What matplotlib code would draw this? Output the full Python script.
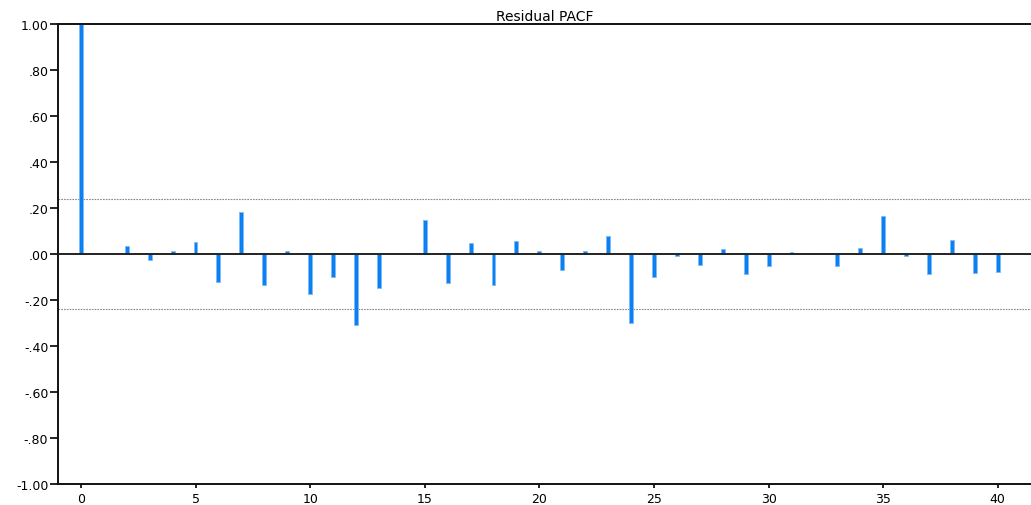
import matplotlib
matplotlib.use("Agg")
import matplotlib.pyplot as plt
import numpy as np

# Partial autocorrelation of residuals, lags 0..40
lags = list(range(0, 41))
pacf = [1.000, 0.000, 0.035, -0.025, 0.012, 0.053, -0.123, 0.181, -0.133, 0.014,
        -0.175, -0.102, -0.307, -0.149, 0.000, 0.146, -0.125, 0.050, -0.133, 0.056,
        0.014, -0.070, 0.014, 0.079, -0.301, -0.101, -0.010, -0.047, 0.020, -0.089,
        -0.053, 0.007, 0.000, -0.053, 0.025, 0.164, -0.010, -0.089, 0.062, -0.083,
        -0.077]
conf_band = 0.237

y_ticks = [1.0, 0.8, 0.6, 0.4, 0.2, 0.0, -0.2, -0.4, -0.6, -0.8, -1.0]
y_tick_labels = ["1.00", ".80", ".60", ".40", ".20", ".00", "-.20", "-.40", "-.60", "-.80", "-1.00"]
x_ticks = [0, 5, 10, 15, 20, 25, 30, 35, 40]

plt.rcParams['font.family'] = ['DejaVu Sans']

fig = plt.figure(figsize=(10.31, 5.06), dpi=100)
ax = fig.add_axes([58 / 1031, 1 - 485 / 506, 1 - 58 / 1031, (485 - 25) / 506])

ax.bar(lags, pacf, width=0.17, color="#0a80f2", edgecolor="#7dbaf5",
       linewidth=0.6, zorder=2)
ax.axhline(0, color="#222222", linewidth=1.4, zorder=3)
ax.axhline(conf_band, color="#888888", linewidth=0.8, linestyle=(0, (1.5, 1)), zorder=1)
ax.axhline(-conf_band, color="#888888", linewidth=0.8, linestyle=(0, (1.5, 1)), zorder=1)

ax.set_xlim(-1.0, 41.45)
ax.set_ylim(-1.0, 1.0)
ax.set_yticks(y_ticks)
ax.set_yticklabels(y_tick_labels)
ax.set_xticks(x_ticks)

for side in ("left", "bottom", "top"):
    ax.spines[side].set_linewidth(1.4)
    ax.spines[side].set_color("#111111")
ax.spines["right"].set_visible(False)

ax.tick_params(axis="y", direction="out", length=6, width=1.2, labelsize=9, pad=1)
ax.tick_params(axis="x", direction="out", length=3, width=1.2, labelsize=9, pad=3)

ax.set_title("Residual PACF", fontsize=10, pad=3)

fig.savefig("out.png", dpi=100)
